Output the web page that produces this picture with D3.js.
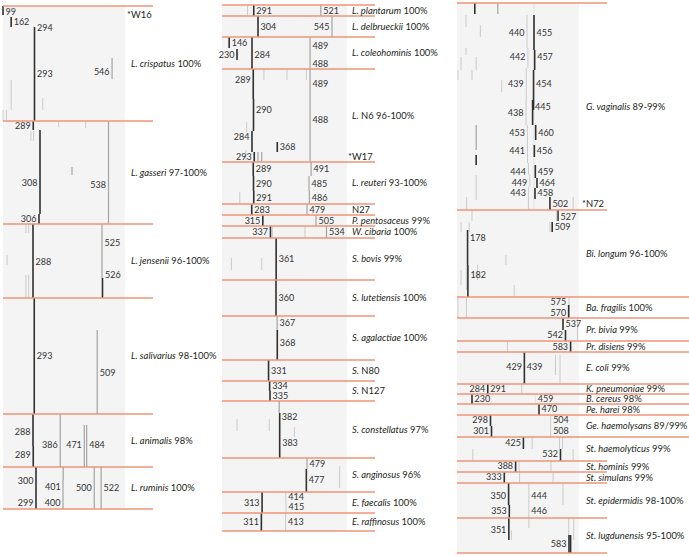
<!DOCTYPE html>
<html><head><meta charset="utf-8">
<script src="https://cdn.jsdelivr.net/npm/d3@7"></script>
<style>body{margin:0;background:#fff}svg{display:block}</style>
</head><body><svg id="c" width="689" height="557"></svg>
<script>
// ---------- DATA ----------
// species names: [italic part, regular part]; lanes = number of isolate lanes per group
const col1Species = [["L. crispatus","100%"],["L. gasseri","97-100%"],["L. jensenii","96-100%"],["L. salivarius","98-100%"],["L. animalis","98%"],["L. ruminis","100%"]];
const col1Lanes = [115,103,74,116,53,42];
const col1Notes = [[0,"*W16",9]];
// bands: [group, fragment size (bp), first lane, last lane, intensity]
const col1Bands = [
 [0,99,0,9,"d"],[0,162,11,21,"d"],[0,294,21,115,"d"],[0,546,52,73,"m"],[0,162,74,104,"l"],[0,99,104,115,"l"],[0,125,104,115,"l"],[0,315,92,104,"l"],
 [1,289,0,9,"d"],[1,377,0,6,"l"],[1,475,0,7,"l"],[1,280,10,20,"l"],[1,290,10,20,"l"],[1,308,9,93,"d"],[1,306,93,103,"d"],[1,440,46,54,"m"],[1,538,0,103,"m"],
 [2,262,0,9,"l"],[2,272,0,9,"l"],[2,288,0,74,"d"],[2,130,31,41,"l"],[2,262,51,74,"l"],[2,272,51,74,"l"],[2,525,0,54,"m"],[2,526,54,74,"d"],
 [3,293,0,116,"d"],[3,509,32,116,"m"],
 [4,288,0,32,"d"],[4,289,32,53,"d"],[4,386,0,53,"m"],[4,471,11,53,"m"],[4,478,11,53,"m"],
 [5,300,0,42,"d"],[5,401,0,13,"m"],[5,400,13,42,"m"],[5,500,0,42,"m"],[5,522,0,42,"m"]
];
// size labels: [group, text, band size it belongs to, lane, side of band]
const col1Labels = [
 [0,"99",99,6,"R"],[0,"162",162,16,"R"],[0,"294",294,22,"R"],[0,"293",294,68,"R"],[0,"546",546,66,"L"],
 [1,"289",289,5,"L"],[1,"308",308,62,"L"],[1,"538",538,64,"L"],[1,"306",306,98,"L"],
 [2,"525",525,19,"R"],[2,"288",288,38,"R"],[2,"526",526,51,"R"],
 [3,"293",293,58,"R"],[3,"509",509,75,"R"],
 [4,"288",288,18,"L"],[4,"289",289,41,"L"],[4,"386",386,31,"L"],[4,"471",471,31,"L"],[4,"484",478,31,"R"],
 [5,"300",300,14,"L"],[5,"299",300,36,"L"],[5,"401",401,20,"L"],[5,"400",400,36,"L"],[5,"500",500,21,"L"],[5,"522",522,21,"R"]
];

const col2Species = [["L. plantarum","100%"],["L. delbrueckii","100%"],["L. coleohominis","100%"],["L.","N6 96-100%"],["L. reuteri","93-100%"],["","N27"],["P. pentosaceus","99%"],["W. cibaria","100%"],["S. bovis","99%"],["S. lutetiensis","100%"],["S. agalactiae","100%"],["S.","N80"],["S.","N127"],["S. constellatus","97%"],["S. anginosus","96%"],["E. faecalis","100%"],["E. raffinosus","100%"]];
const col2Lanes = [11,21,32,93,42,11,11,12,42,36,44,21,20,57,34,21,18];
const col2Notes = [[3,"*W17",88]];
const col2Bands = [
 [0,268,0,11,"l"],[0,291,0,11,"d"],[0,521,0,11,"m"],
 [1,304,0,21,"d"],[1,545,0,21,"m"],
 [2,146,0,11,"d"],[2,230,12,23,"d"],[2,284,0,32,"d"],[2,488,0,32,"m"],
 [3,289,0,30,"d"],[3,290,30,62,"d"],[3,284,62,83,"d"],[3,293,83,93,"d"],[3,304,83,93,"m"],[3,312,83,93,"m"],[3,368,73,83,"d"],[3,488,0,93,"m"],[3,318,0,11,"l"],[3,419,0,11,"l"],[3,477,0,11,"l"],[3,265,53,63,"l"],[3,262,81,91,"l"],
 [4,289,0,14,"d"],[4,290,14,29,"d"],[4,291,29,42,"d"],[4,491,0,14,"m"],[4,485,14,29,"m"],[4,486,29,42,"m"],[4,240,30,42,"l"],
 [5,283,0,11,"d"],[5,479,0,11,"m"],
 [6,315,0,11,"d"],[6,505,0,11,"m"],
 [7,337,0,12,"d"],[7,345,0,12,"l"],[7,473,0,12,"l"],[7,534,0,12,"m"],
 [8,361,0,42,"d"],[8,165,20,32,"l"],[8,312,20,32,"l"],
 [9,360,0,36,"d"],
 [10,367,0,14,"m"],[10,368,14,44,"d"],
 [11,331,0,21,"d"],
 [12,334,0,10,"d"],[12,335,10,20,"d"],
 [13,380,0,12,"m"],[13,383,12,57,"d"],[13,230,18,30,"l"],[13,333,18,30,"l"],[13,445,26,36,"l"],
 [14,479,0,11,"m"],[14,477,11,34,"d"],[14,592,8,30,"l"],
 [15,313,0,21,"d"],[15,414,0,10,"l"],[15,415,10,21,"l"],
 [16,311,0,18,"d"],[16,413,0,18,"l"]
];
const col2Labels = [
 [0,"291",291,6,"R"],[0,"521",521,6,"R"],
 [1,"304",304,11,"R"],[1,"545",545,11,"L"],
 [2,"146",146,6,"R"],[2,"230",230,18,"L"],[2,"284",284,18,"R"],[2,"489",488,9,"R"],[2,"488",488,27,"R"],
 [3,"289",289,11,"L"],[3,"290",290,41,"R"],[3,"284",284,68,"L"],[3,"368",368,78,"R"],[3,"293",293,88,"L"],[3,"489",488,15,"R"],[3,"488",488,51,"R"],
 [4,"289",289,7,"R"],[4,"290",290,22,"R"],[4,"291",291,36,"R"],[4,"491",491,7,"R"],[4,"485",485,22,"R"],[4,"486",486,36,"R"],
 [5,"283",283,6,"R"],[5,"479",479,6,"R"],
 [6,"315",315,6,"L"],[6,"505",505,6,"R"],
 [7,"337",337,6,"L"],[7,"534",534,6,"R"],
 [8,"361",361,21,"R"],
 [9,"360",360,18,"R"],
 [10,"367",367,7,"R"],[10,"368",368,27,"R"],
 [11,"331",331,11,"R"],
 [12,"334",334,5,"R"],[12,"335",335,15,"R"],
 [13,"382",380,16,"R"],[13,"383",383,42,"R"],
 [14,"479",479,6,"R"],[14,"477",477,22,"R"],
 [15,"313",313,11,"L"],[15,"414",414,4.5,"R"],[15,"415",415,14.5,"R"],
 [16,"311",311,9,"L"],[16,"413",413,9,"R"]
];

const col3Species = [["G. vaginalis","89-99%"],["Bi. longum","96-100%"],["Ba. fragilis","100%"],["Pr. bivia","99%"],["Pr. disiens","99%"],["E. coli","99%"],["K. pneumoniae","99%"],["B. cereus","98%"],["Pe. harei","98%"],["Ge. haemolysans","89/99%"],["St. haemolyticus","99%"],["St. hominis","99%"],["St. simulans","99%"],["St. epidermidis","98-100%"],["St. lugdunensis","95-100%"]];
const col3Lanes = [207,87,21,23,11,32,10,10,11,22,24,11,11,35,35];
const col3Notes = [[0,"*N72",201]];
const col3Bands = [
 [0,240,0,11,"d"],[0,315,0,11,"m"],[0,455,0,207,"x"],
 [0,455,12,47,"d"],[0,457,47,67,"d"],[0,454,67,107,"d"],[0,452,97,122,"d"],[0,460,122,137,"d"],[0,456,142,154,"d"],[0,459,162,175,"d"],[0,464,175,185,"d"],[0,458,185,196,"d"],[0,502,194,207,"d"],
 [0,440,12,45,"l"],[0,442,45,65,"l"],[0,437,65,97,"l"],[0,436,97,122,"l"],[0,441,122,160,"l"],[0,443,160,172,"l"],[0,446,172,184,"l"],[0,443,184,207,"l"],
 [0,160,12,24,"l"],[0,260,22,34,"l"],[0,160,45,52,"l"],[0,122,54,67,"l"],[0,245,54,67,"l"],[0,99,67,77,"l"],[0,230,67,77,"l"],[0,326,77,89,"l"],[0,245,122,147,"m"],[0,245,152,162,"d"],[0,245,172,197,"l"],[0,168,194,207,"l"],[0,589,194,207,"l"],
 [1,527,0,11,"d"],[1,524,0,11,"l"],[1,509,12,22,"d"],[1,502,12,22,"l"],[1,122,12,22,"l"],[1,197,12,22,"l"],[1,230,0,11,"l"],[1,178,20,55,"d"],[1,182,55,87,"d"],[1,165,22,80,"l"],[1,122,60,75,"l"],[1,250,55,70,"l"],[1,339,45,55,"l"],[1,380,75,87,"l"],
 [2,575,0,21,"l"],[2,570,8,21,"d"],[2,99,0,21,"l"],[2,165,0,21,"l"],
 [3,537,0,12,"d"],[3,542,12,23,"d"],[3,597,0,23,"l"],
 [4,583,0,11,"d"],[4,345,0,11,"l"],
 [5,429,0,32,"d"],[5,520,3,23,"l"],[5,531,3,32,"l"],
 [6,287,0,10,"d"],[6,418,0,10,"l"],
 [7,230,0,10,"d"],[7,459,0,10,"x"],
 [8,470,0,11,"d"],
 [9,298,0,11,"d"],[9,301,11,22,"d"],[9,504,0,22,"l"],
 [10,425,0,12,"d"],[10,451,0,12,"l"],[10,530,0,12,"l"],[10,536,0,12,"l"],[10,532,12,24,"d"],[10,589,12,24,"l"],[10,233,12,24,"l"],
 [11,388,0,11,"d"],[11,405,0,11,"l"],[11,505,0,11,"l"],
 [12,333,0,11,"d"],[12,408,0,11,"l"],[12,512,0,11,"l"],
 [13,350,0,22,"d"],[13,353,22,35,"d"],[13,444,0,35,"l"],[13,537,0,22,"l"],
 [14,351,0,22,"d"],[14,362,12,22,"l"],[14,444,0,10,"l"],[14,570,0,22,"l"],[14,590,0,22,"l"],[14,575,17,35,"d"],[14,583,17,35,"d"]
];
const col3Labels = [
 [0,"440",440,30,"L"],[0,"455",455,30,"R"],[0,"442",442,54,"L"],[0,"457",457,54,"R"],[0,"439",437,81,"L"],[0,"454",454,81,"R"],
 [0,"438",436,110,"L"],[0,"445",452,104,"R"],[0,"453",441,130,"L"],[0,"460",460,130,"R"],[0,"441",441,148,"L"],[0,"456",456,148,"R"],
 [0,"444",443,169,"L"],[0,"459",459,169,"R"],[0,"449",446,180,"L"],[0,"464",464,180,"R"],[0,"443",443,190,"L"],[0,"458",458,190,"R"],[0,"502",502,201,"R"],
 [1,"527",527,7,"R"],[1,"509",509,17,"R"],[1,"178",178,28,"R"],[1,"182",182,65,"R"],
 [2,"575",570,5,"L"],[2,"570",570,16,"L"],
 [3,"537",537,6,"R"],[3,"542",542,17,"L"],
 [4,"583",583,6,"L"],
 [5,"429",429,15,"L"],[5,"439",429,15,"R"],
 [6,"284",287,5,"L"],[6,"291",287,5,"R"],
 [7,"230",230,5,"R"],[7,"459",459,5,"R"],
 [8,"470",470,5,"R"],
 [9,"298",298,5,"L"],[9,"301",301,16,"L"],[9,"504",504,5,"R"],[9,"508",504,16,"R"],
 [10,"425",425,6,"L"],[10,"532",532,17,"L"],
 [11,"388",388,5,"L"],
 [12,"333",333,5,"L"],
 [13,"350",350,13,"L"],[13,"353",353,28,"L"],[13,"444",444,13,"R"],[13,"446",444,28,"R"],
 [14,"351",351,12,"L"],[14,"583",575,26,"L"]
];

// ---------- DRAWING ----------
const svg = d3.select("#c");
// fragment size -> horizontal offset within a gel panel (non-linear sizing calibration)
const sizeScale = d3.scaleLinear()
  .domain([99,160,230,284,300,310,335,360,385,415,440,455,470,485,505,525,545,575,585,600])
  .range([1,9,15,30,34,39,48,54,58,64,70,77,82,87,94,100,110,112,114,122])
  .clamp(true);

const tone = {d:{c:"#303030",w:1.6},m:{c:"#a3a3a3",w:1.2},l:{c:"#cbcbcb",w:1},x:{c:"#e3e3e3",w:1}};
const RULE = "#ef9479";
const FONT = "Lato, 'Open Sans', sans-serif";

const layouts = [
 {sp:col1Species,lanes:col1Lanes,bands:col1Bands,labels:col1Labels,notes:col1Notes,x0:2,top:6,bgL:3,bgR:125,ruleR:153,labelX:131,longRules:[]},
 {sp:col2Species,lanes:col2Lanes,bands:col2Bands,labels:col2Labels,notes:col2Notes,x0:222,top:5,bgL:222,bgR:347,ruleR:375,labelX:352,longRules:[]},
 {sp:col3Species,lanes:col3Lanes,bands:col3Bands,labels:col3Labels,notes:col3Notes,x0:457,top:3,bgL:457,bgR:579,ruleR:607,labelX:586,longRules:[2,3,4,5,6,7,8,9,10]}
];

layouts.forEach(L => {
  const starts = [0, ...d3.cumsum(L.lanes)];
  const total = starts[starts.length-1];
  const y = d3.scaleLinear().domain([0,total]).range([L.top, L.top+total]);
  const x = bp => L.x0 + sizeScale(bp);
  const g = svg.append("g");

  g.append("rect").attr("x",L.bgL).attr("y",y(0)).attr("width",L.bgR-L.bgL).attr("height",y(total)-y(0)).attr("fill","#f4f4f4");

  g.selectAll("line.band").data(L.bands).join("line").attr("class","band")
    .attr("x1",d=>x(d[1])).attr("x2",d=>x(d[1]))
    .attr("y1",d=>y(starts[d[0]]+d[2])).attr("y2",d=>y(starts[d[0]]+d[3]))
    .attr("stroke",d=>tone[d[4]].c).attr("stroke-width",d=>tone[d[4]].w);

  g.selectAll("line.rule").data(starts).join("line").attr("class","rule")
    .attr("x1",L.bgL).attr("x2",(d,i)=>L.longRules.includes(i)?689:L.ruleR)
    .attr("y1",d=>y(d)).attr("y2",d=>y(d))
    .attr("stroke",RULE).attr("stroke-width",1.4);

  g.selectAll("text.size").data(L.labels).join("text").attr("class","size")
    .attr("x",d=>x(d[2]) + (d[4]==="R"?2.5:-2.5))
    .attr("y",d=>y(starts[d[0]]+d[3]))
    .attr("dy","0.36em")
    .attr("text-anchor",d=>d[4]==="R"?"start":"end")
    .attr("font-family",FONT).attr("font-size",9).attr("fill","#333")
    .text(d=>d[1]);

  const sp = g.selectAll("text.sp").data(L.sp).join("text").attr("class","sp")
    .attr("x",L.labelX).attr("y",(d,i)=>y(starts[i]+L.lanes[i]/2)).attr("dy","0.36em")
    .attr("font-family",FONT).attr("font-size",9.4).attr("fill","#231f20");
  sp.append("tspan").attr("font-style","italic").text(d=>d[0]);
  sp.append("tspan").text(d=>(d[0]?" ":"")+d[1]);

  g.selectAll("text.note").data(L.notes).join("text").attr("class","note")
    .attr("x",L.labelX-4).attr("y",d=>y(starts[d[0]]+d[2])).attr("dy","0.36em")
    .attr("font-family",FONT).attr("font-size",9.4).attr("fill","#231f20")
    .text(d=>d[1]);
});
</script></body></html>
